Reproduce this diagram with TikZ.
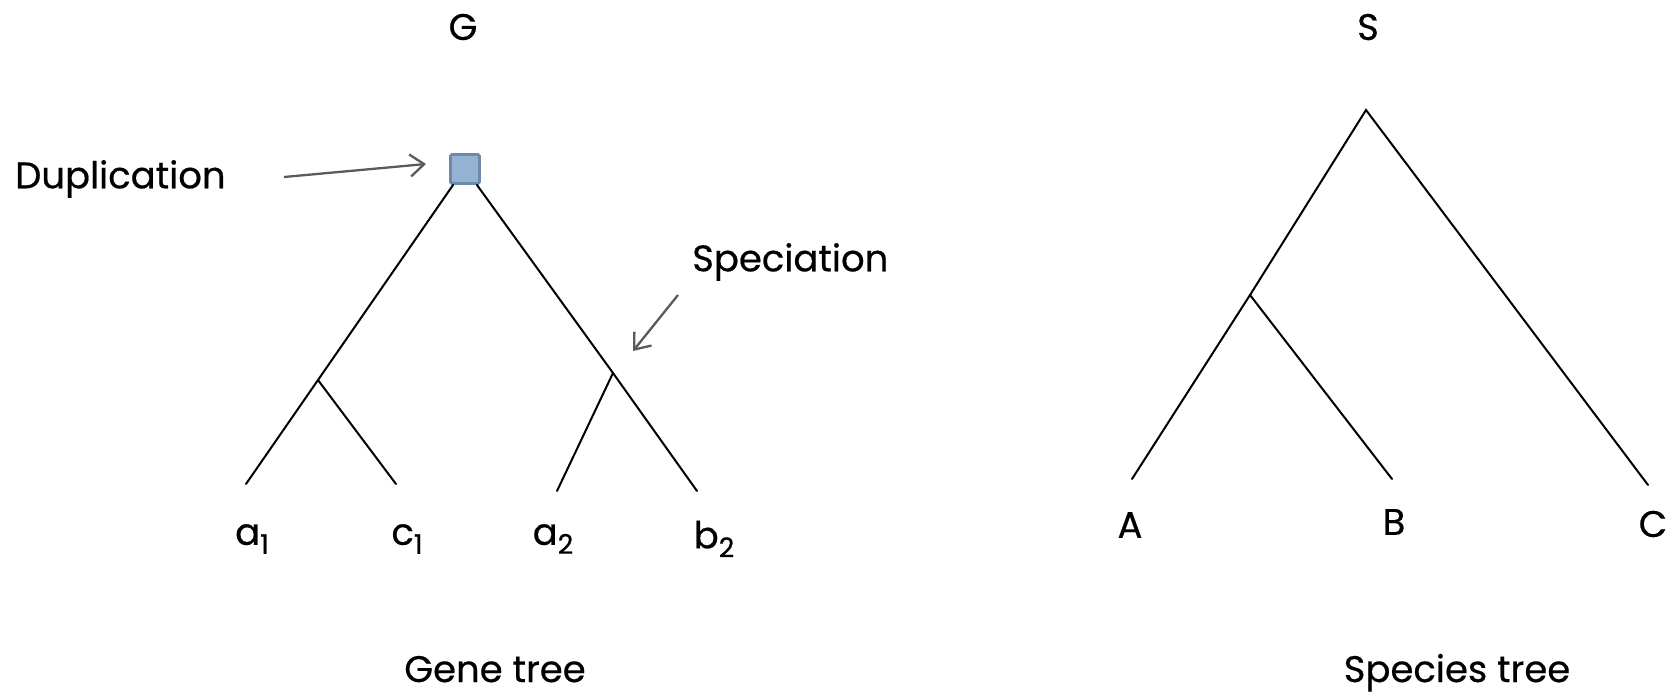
\documentclass[tikz,border=0pt]{standalone}
\usepackage{fontspec}
\setmainfont{Poppins}[FakeBold=0.5]
\usetikzlibrary{arrows.meta}
\definecolor{boxfill}{RGB}{148,179,210}
\definecolor{boxdraw}{RGB}{110,138,168}
\definecolor{arrowgray}{RGB}{90,90,90}
\newcommand{\subidx}[1]{\raisebox{-9pt}{\fontsize{27}{30}\selectfont #1}}
\begin{document}
\begin{tikzpicture}[x=1pt,y=-1pt,
  branch/.style={line width=2pt,black,line cap=round},
  lbl/.style={font=\fontsize{37}{44}\selectfont,inner sep=0pt},
  pointer/.style={line width=2.3pt,arrowgray,-{Straight Barb[length=14pt,width=22pt,line width=2.3pt]}},
  dupbox/.style={draw=boxdraw,fill=boxfill,line width=2.8pt,minimum size=29pt,inner sep=0pt,rounded corners=1.5pt}]
\useasboundingbox (0,0) rectangle (1680,694);
% Gene tree
\node[lbl] (G) at (463,27) {G};
\node[dupbox] (dup) at (465,169) {};
\coordinate (gl) at (318,380);
\coordinate (gr) at (613,373);
\coordinate (a1e) at (246,484);
\coordinate (c1e) at (396,484);
\coordinate (a2e) at (557,491);
\coordinate (b2e) at (697,491);
\draw[branch] (dup.south west) ++(4,0) coordinate (dl) -- (gl) -- (a1e);
\draw[branch] (gl) -- (c1e);
\draw[branch] (dup.south east) ++(-4,0) coordinate (dr) -- (gr) -- (b2e);
\draw[branch] (gr) -- (a2e);
\node[lbl] (a1) at (252,539) {a\subidx{1}};
\node[lbl] (c1) at (407,539) {c\subidx{1}};
\node[lbl] (a2) at (553,539) {a\subidx{2}};
\node[lbl] (b2) at (714,539) {b\subidx{2}};
\node[lbl,anchor=west] (duptxt) at (15,179) {Duplication};
\coordinate (dupfrom) at (284,177);
\coordinate (dupto) at (426,164);
\draw[pointer] (dupfrom) -- (dupto);
\node[lbl,anchor=west] (spectxt) at (692,262) {Speciation};
\coordinate (specfrom) at (678,295);
\coordinate (specto) at (633,351);
\draw[pointer] (specfrom) -- (specto);
\node[lbl,anchor=base] (genecap) at (495,682) {Gene tree};
% Species tree
\node[lbl] (S) at (1368,27) {S};
\coordinate (sroot) at (1366,110);
\coordinate (sab) at (1250,295);
\coordinate (Ae) at (1132,479);
\coordinate (Be) at (1392,479);
\coordinate (Ce) at (1648,485);
\draw[branch] (Ae) -- (sab) -- (sroot) -- (Ce);
\draw[branch] (sab) -- (Be);
\node[lbl] (A) at (1130,525) {A};
\node[lbl] (B) at (1394,522) {B};
\node[lbl] (C) at (1653,524) {C};
\node[lbl,anchor=base] (speccap) at (1457,682) {Species tree};
\end{tikzpicture}
\end{document}
